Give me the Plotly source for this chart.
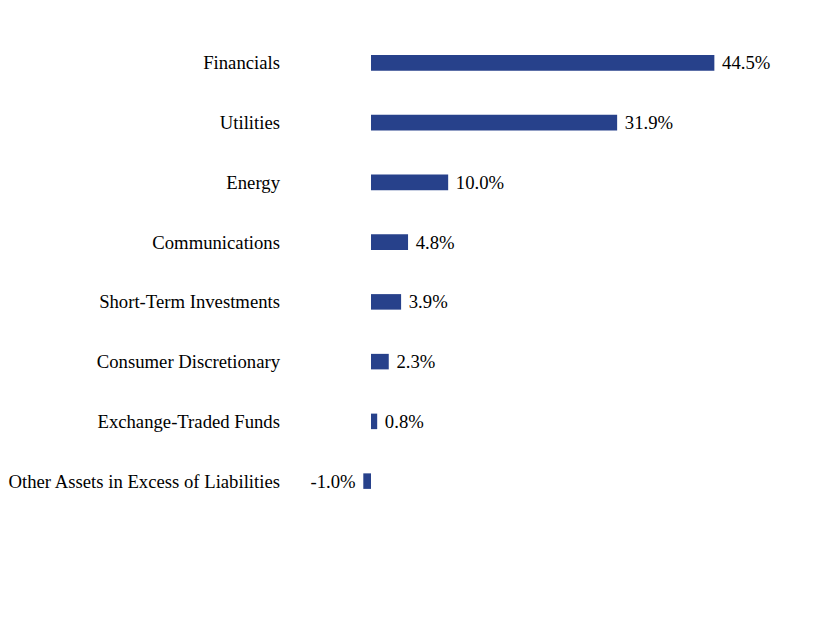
import plotly.graph_objects as go

# sector weights, top to bottom as shown
sectors = [
    "Financials",
    "Utilities",
    "Energy",
    "Communications",
    "Short-Term Investments",
    "Consumer Discretionary",
    "Exchange-Traded Funds",
    "Other Assets in Excess of Liabilities",
]
weights = [44.5, 31.9, 10.0, 4.8, 3.9, 2.3, 0.8, -1.0]

BAR_COLOR = "#27418B"
FONT = "Liberation Serif, Times New Roman, serif"
FONT_SIZE = 18.7

labels = [f" {w:.1f}%" if w >= 0 else f"{w:.1f}% " for w in weights]

fig = go.Figure(
    go.Bar(
        x=weights,
        y=sectors,
        orientation="h",
        width=0.26,
        marker=dict(color=BAR_COLOR, line=dict(width=0)),
        text=labels,
        textposition="outside",
        constraintext="none",
        cliponaxis=False,
        textfont=dict(family=FONT, size=FONT_SIZE, color="#000000"),
        hoverinfo="skip",
    )
)

# page body has an 8px margin, so margins are set 8px smaller
fig.update_layout(
    width=816,
    height=624,
    margin=dict(l=282, r=24, t=25, b=121),
    paper_bgcolor="white",
    plot_bgcolor="white",
    showlegend=False,
    font=dict(family=FONT, size=FONT_SIZE, color="#000000"),
    xaxis=dict(
        range=[-10.5, 55.6],
        visible=False,
        showgrid=False,
        zeroline=False,
    ),
    yaxis=dict(
        categoryorder="array",
        categoryarray=sectors[::-1],
        showgrid=False,
        zeroline=False,
        showline=False,
        ticks="",
        automargin=False,
        ticklabelstandoff=9,
        tickfont=dict(family=FONT, size=FONT_SIZE, color="#000000"),
    ),
)

fig.write_html("out.html")
